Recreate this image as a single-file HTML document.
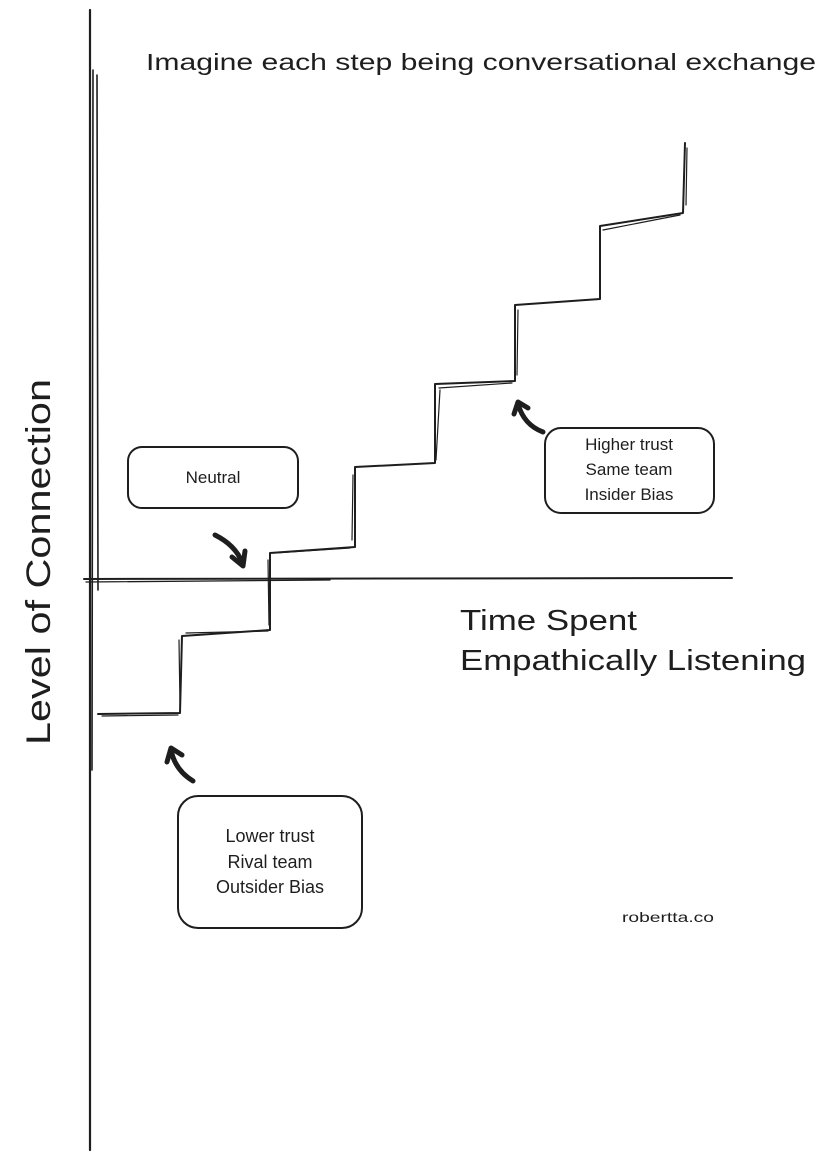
<!DOCTYPE html>
<html><head><meta charset="utf-8"><style>
html,body{margin:0;padding:0;background:#fff;}
svg{display:block}
text{font-family:"Liberation Sans",sans-serif;fill:#1e1e1e}
</style></head><body>
<svg width="826" height="1162" viewBox="0 0 826 1162" xmlns="http://www.w3.org/2000/svg">
<g stroke="#1e1e1e" fill="none" stroke-linecap="round" stroke-linejoin="round">
<path d="M90 10 L90 1150" stroke-width="2.2"/>
<path d="M93 70 L92 770" stroke-width="1.6"/>
<path d="M97 75 L98 590" stroke-width="1.6"/>
<path d="M84 579 L732 578" stroke-width="2"/>
<path d="M86 582 L330 580" stroke-width="1.3"/>
<path d="M98 714 L180 713 L182 636 L270 630 L270 553 L355 547 L355 467 L435 463 L435 384 L515 381 L515 305 L600 299 L600 226 L683 213 L685 143" stroke-width="2"/>
<path d="M102 716 L178 715 M179 640 L180 706 M186 633 L268 631 M268 560 L269 625 M274 553 L350 548 M353 475 L352 540 M439 388 L512 383 M518 310 L517 375 M603 230 L680 215 M687 148 L686 205 M440 390 L436 460" stroke-width="1.2"/>
<rect x="128" y="447" width="170" height="61" rx="14" stroke-width="2"/>
<rect x="545" y="428" width="169" height="85" rx="16" stroke-width="2"/>
<rect x="178" y="796" width="184" height="132" rx="20" stroke-width="2"/>
<path d="M215 535 Q235 545 242 562" stroke-width="5"/>
<path d="M232 557 L243 566 L245 551" stroke-width="5"/>
<path d="M193 781 Q175 770 171 750" stroke-width="5"/>
<path d="M167 762 L171 748 L182 755" stroke-width="5"/>
<path d="M543 432 Q524 425 518 404" stroke-width="5"/>
<path d="M514 414 L518 402 L528 408" stroke-width="5"/>
</g>
<text x="146" y="70" font-size="23" textLength="670" lengthAdjust="spacingAndGlyphs">Imagine each step being conversational exchange</text>
<text x="213" y="483" font-size="17" text-anchor="middle">Neutral</text>
<text x="629" y="450" font-size="17" text-anchor="middle">Higher trust</text>
<text x="629" y="475" font-size="17" text-anchor="middle">Same team</text>
<text x="629" y="500" font-size="17" text-anchor="middle">Insider Bias</text>
<text x="270" y="842" font-size="18" text-anchor="middle">Lower trust</text>
<text x="270" y="868" font-size="18" text-anchor="middle">Rival team</text>
<text x="270" y="893" font-size="18" text-anchor="middle">Outsider Bias</text>
<text x="460" y="630" font-size="29" textLength="177" lengthAdjust="spacingAndGlyphs">Time Spent</text>
<text x="460" y="670" font-size="29" textLength="346" lengthAdjust="spacingAndGlyphs">Empathically Listening</text>
<text x="622" y="922" font-size="14" textLength="92" lengthAdjust="spacingAndGlyphs">robertta.co</text>
<text transform="translate(50,745) rotate(-90)" font-size="34" textLength="366" lengthAdjust="spacingAndGlyphs">Level of Connection</text>
</svg>
</body></html>
